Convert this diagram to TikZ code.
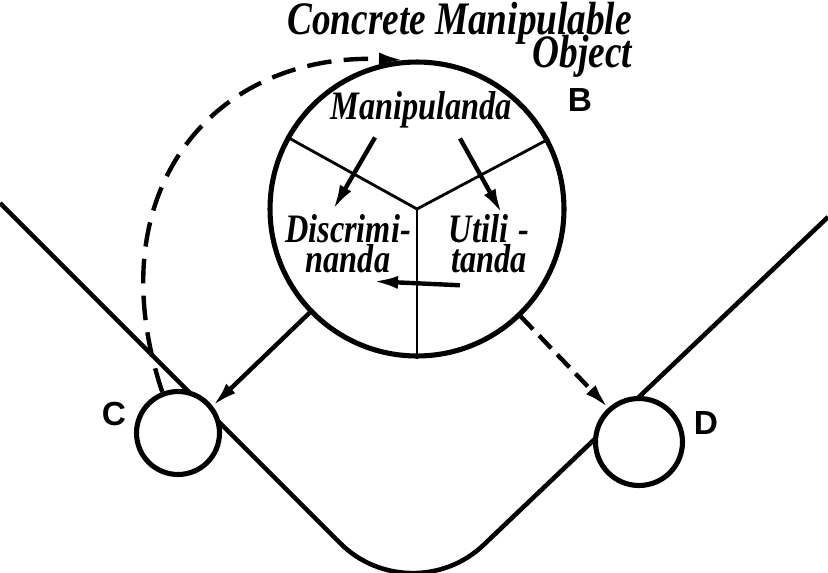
\documentclass[tikz,border=0pt]{standalone}
\usepackage{fontspec}
\newfontfamily\handfont[FakeStretch=0.8]{Liberation Serif}
\newfontfamily\letfont{Liberation Sans}
\usetikzlibrary{arrows.meta, calc}
\tikzset{
  disc/.style   = {circle, draw, line width=2.9pt, fill=white, inner sep=0pt},
  hand/.style   = {font=\handfont\bfseries\itshape\fontsize{23}{17}\selectfont,
                   align=center, inner sep=1pt},
  title/.style  = {font=\handfont\bfseries\itshape\fontsize{26.5}{17}\selectfont,
                   align=right, inner sep=1pt},
  tag/.style    = {font=\letfont\bfseries\fontsize{19}{19}\selectfont, inner sep=0pt},
  divide/.style = {line width=1.6pt},
  track/.style  = {line width=2.6pt, rounded corners=2cm},
  flow/.style   = {-{Latex[length=5mm, width=2.6mm]}, line width=2.5pt},
  loop/.style   = {flow, dash pattern=on 14pt off 7pt},
  cut/.style    = {flow, dash pattern=on 10pt off 5pt},
}
\begin{document}
\begin{tikzpicture}[x=0.02cm, y=-0.02cm]
  \useasboundingbox (0,0) rectangle (828,572);

  % the track
  \coordinate (tl) at (0,203);
  \coordinate (tv) at (411,614);
  \coordinate (tr) at (828,217);
  \draw[track] (tl) -- (tv) -- (tr);

  \node[disc, minimum size=5.88cm] (B) at (417,209) {};
  \node[disc, minimum size=1.66cm] (C) at (178,433) {};
  \node[disc, minimum size=1.74cm] (D) at (639,442) {};

  \draw[divide] (B.center) -- (B.151);
  \draw[divide] (B.center) -- (B.28);
  \draw[divide] (B.center) -- (B.270);

  % labels
  \node[title, anchor=north east] (obj) at (634,0) {Concrete Manipulable\\[-6pt]Object};
  \node[tag] (bl) at (580,100) {B};
  \node[tag] (cl) at (114,414) {C};
  \node[tag] (dl) at (706,423) {D};
  \node[hand] (man) at (421,110) {Manipulanda};
  \node[hand] (dis) at (348,244) {Discrimi-\\nanda};
  \node[hand] (uti) at (489,244) {Utili\hspace{0.25em}-\\tanda};

  % arrows inside B
  \draw[flow] ($(man.south)+(-46,7)$) -- ($(dis.north)+(-15,-3)$);
  \draw[flow] ($(man.south)+(39,8)$) -- ($(uti.north)+(13,1)$);
  \draw[flow] ($(uti.south)+(-29,10)$) -- ($(dis.south)+(25,6)$);

  % arrows outside B
  \draw[flow] (B.224) -- (C.38);
  \draw[cut] (B.314) -- (D.132);
  \draw[loop] (C.111) .. controls (95,190) and (215,52) .. (B.95);
\end{tikzpicture}
\end{document}
